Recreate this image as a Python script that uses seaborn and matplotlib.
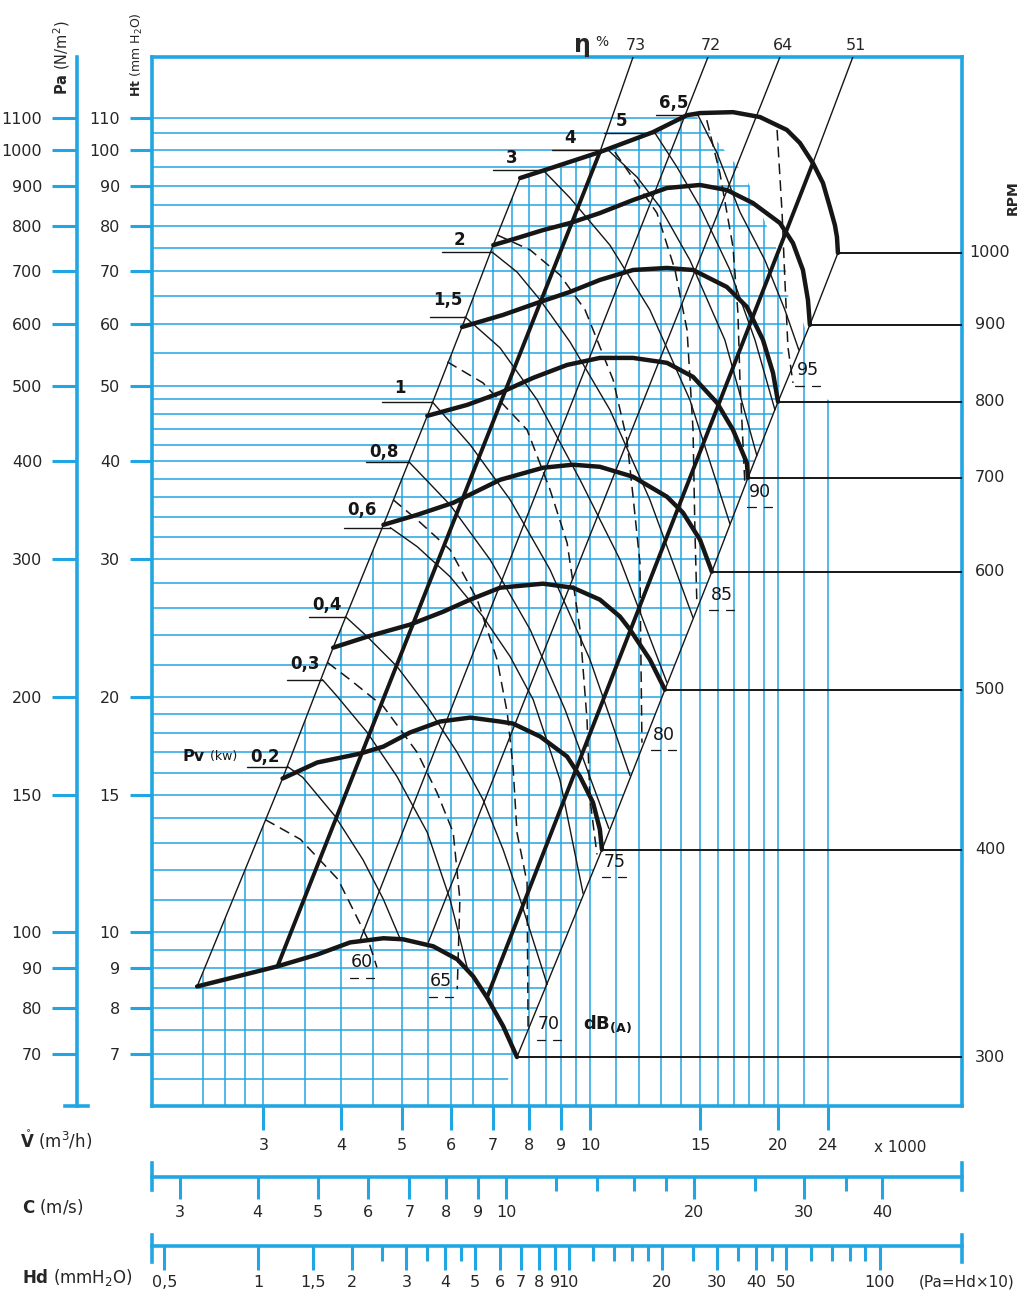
import matplotlib
matplotlib.use("Agg")
import matplotlib.pyplot as plt
import seaborn as sns
from matplotlib.patches import Polygon
from matplotlib.ticker import FixedLocator, NullLocator
from matplotlib.transforms import blended_transform_factory

sns.set_theme(style="white")
plt.rcParams['font.family'] = ['DejaVu Sans']
plt.rcParams['mathtext.fontset'] = 'dejavusans'

BLUE = '#22a6e3'
INK = '#161616'

# ── Fan curves: flow (x1000 m3/h) vs total head Ht (mm H2O) ──────────────────
rpm = [300, 400, 500, 600, 700, 800, 900, 1000]

q300 = [2.35, 3.16, 3.66, 4.13, 4.67, 5.02, 5.61, 6.13, 6.50, 6.84, 7.26, 7.64]
h300 = [8.53, 9.05, 9.37, 9.71, 9.83, 9.80, 9.60, 9.24, 8.79, 8.26, 7.59, 6.93]
q400 = [3.22, 3.66, 4.29, 4.67, 5.15, 5.75, 6.43, 7.18, 7.53, 8.32, 9.19, 9.64, 10.11, 10.37, 10.45]
h400 = [15.73, 16.49, 16.93, 17.28, 18.01, 18.60, 18.82, 18.60, 18.49, 17.80, 16.78, 15.82, 14.66, 13.54, 12.76]
q500 = [3.88, 4.40, 5.15, 5.82, 6.43, 7.18, 8.41, 9.39, 10.37, 11.17, 11.59, 12.47, 13.18]
h500 = [23.12, 23.88, 24.74, 25.70, 26.63, 27.58, 27.91, 27.58, 26.63, 25.33, 24.38, 22.32, 20.43]
q600 = [4.67, 5.29, 6.04, 7.18, 8.41, 9.39, 10.37, 11.72, 13.28, 14.09, 15.00, 15.67]
h600 = [33.19, 34.18, 35.41, 37.89, 39.26, 39.61, 39.37, 38.23, 36.05, 34.39, 31.76, 28.91]
q700 = [5.49, 6.36, 7.18, 8.11, 9.19, 10.37, 11.72, 13.28, 14.62, 15.97, 16.94, 17.83, 17.90]
h700 = [45.74, 47.24, 48.94, 51.15, 53.13, 54.24, 54.24, 53.46, 51.30, 47.53, 43.89, 39.82, 38.11]
q800 = [6.24, 7.26, 8.23, 9.29, 10.37, 11.72, 13.28, 14.62, 16.56, 17.83, 18.92, 19.63, 20.00]
h800 = [59.41, 61.56, 63.77, 65.87, 68.23, 70.26, 70.68, 70.26, 66.83, 63.03, 57.18, 51.91, 47.67]
q900 = [7.00, 7.64, 8.41, 9.29, 10.37, 11.72, 13.28, 15.00, 16.56, 18.23, 20.14, 21.13, 21.92, 22.33, 22.49]
h900 = [75.60, 77.17, 79.01, 80.67, 83.07, 86.32, 89.43, 90.23, 88.90, 85.56, 80.67, 76.04, 70.26, 64.33, 59.78]
q1000 = [7.73, 8.47, 10.37, 12.61, 14.30, 15.00, 16.94, 18.71, 20.66, 21.68, 22.74, 23.60, 24.21, 24.66, 24.85, 24.94]
h1000 = [92.10, 94.29, 99.41, 105.4, 110.8, 111.5, 111.8, 110.2, 106.1, 102.1, 96.25, 90.75, 84.58, 80.2, 77.43, 73.87]

# ── Efficiency lines (eta %) ─────────────────────────────────────────────────
eta_labels = ['73', '72', '64', '51']
eta73_q = [3.16, 10.37, 11.72]
eta73_h = [9.05, 99.41, 131.5]
eta72_q = [4.29, 15.45]
eta72_h = [9.80, 131.5]
eta64_q = [5.51, 20.14]
eta64_h = [9.71, 131.5]
eta51_q = [6.84, 22.74, 26.35]
eta51_h = [8.26, 96.25, 131.5]

# ── Shaft power lines Pv (kW) ────────────────────────────────────────────────
pv_labels = ['0,2', '0,3', '0,4', '0,6', '0,8', '1', '1,5', '2', '3', '4', '5', '6,5']
p02_q = [3.28, 3.47, 3.91, 4.33, 4.67, 4.97]
p02_h = [16.29, 15.78, 14.07, 12.39, 11.02, 9.80]
p03_q = [3.73, 3.94, 4.40, 4.91, 5.49, 5.97, 6.38]
p03_h = [21.04, 20.02, 18.01, 15.82, 13.42, 11.02, 8.92]
p04_q = [4.06, 4.40, 4.91, 5.49, 6.13, 6.74, 7.26, 7.73, 8.54]
p04_h = [25.33, 23.88, 21.87, 19.44, 16.98, 14.79, 12.76, 11.02, 8.58]
p06_q = [4.79, 5.29, 5.97, 6.74, 7.45, 8.11, 8.95, 9.75]
p06_h = [32.91, 31.12, 28.49, 25.33, 22.52, 19.84, 15.68, 11.21]
p08_q = [5.13, 5.97, 6.92, 8.02, 9.12, 10.72]
p08_h = [39.95, 35.20, 29.95, 24.38, 19.27, 13.58]
p1_q = [5.59, 6.43, 7.45, 8.63, 10.0, 11.59]
p1_h = [47.67, 42.00, 35.73, 29.08, 22.32, 15.87]
p15_q = [6.31, 7.18, 8.23, 9.64, 11.17, 13.28]
p15_h = [61.19, 55.86, 47.94, 37.89, 29.95, 20.86]
p2_q = [6.97, 7.64, 8.32, 9.29, 10.76, 12.47, 14.62]
p2_h = [74.07, 69.85, 64.33, 56.85, 46.56, 35.73, 25.25]
p3_q = [8.41, 9.29, 10.76, 12.47, 14.45, 16.75]
p3_h = [94.29, 86.85, 75.60, 62.48, 47.94, 33.29]
p4_q = [10.69, 11.89, 12.94, 14.45, 16.44, 18.50]
p4_h = [100.0, 92.37, 84.58, 72.35, 57.18, 40.67]
p5_q = [12.71, 13.78, 15.00, 16.75, 18.37, 19.77]
p5_h = [105.1, 95.12, 84.58, 70.26, 57.18, 46.56]
p65_q = [14.89, 15.97, 17.38, 19.05, 20.51, 21.59]
p65_h = [110.8, 99.13, 83.33, 72.35, 62.48, 55.54]
pv_label_q = [3.02, 3.50, 3.80, 4.32, 4.68, 4.97, 5.93, 6.19, 7.48, 9.29, 11.25, 13.63]
pv_label_h = [16.78, 22.06, 26.24, 34.69, 41.15, 49.66, 64.33, 76.74, 97.68, 103.6, 108.9, 114.8]

# ── Sound level lines dB(A) ──────────────────────────────────────────────────
db_labels = ['60', '65', '70', '75', '80', '85', '90', '95']
db60_q = [3.02, 3.44, 3.95, 4.41, 4.56]
db60_h = [13.94, 13.15, 11.69, 9.80, 9.02]
db65_q = [3.80, 4.13, 4.67, 5.29, 5.69, 6.04, 6.19, 6.13]
db65_h = [22.13, 21.04, 19.44, 16.98, 15.09, 13.42, 11.02, 8.46]
db70_q = [4.84, 5.29, 5.97, 6.60, 7.10, 7.37, 7.53, 7.64, 7.93, 7.96]
db70_h = [35.73, 33.68, 30.84, 26.63, 22.32, 19.10, 16.29, 13.42, 11.58, 7.52]
db75_q = [5.91, 6.74, 7.93, 8.63, 9.19, 9.64, 9.89, 10.0, 10.26]
db75_h = [53.61, 50.40, 43.89, 36.81, 31.48, 24.38, 18.71, 14.79, 12.58]
db80_q = [7.10, 8.02, 8.95, 9.82, 10.89, 11.46, 11.72, 12.02, 12.05, 12.11]
db80_h = [77.89, 74.53, 69.24, 62.48, 50.85, 42.62, 36.05, 29.69, 24.38, 17.48]
db85_q = [10.96, 12.80, 13.68, 14.30, 14.62, 14.72, 14.83]
db85_h = [99.41, 83.07, 70.26, 58.90, 43.89, 32.72, 26.24]
db90_q = [15.38, 16.14, 16.94, 17.25, 17.38, 17.70]
db90_h = [109.2, 93.46, 75.17, 61.92, 50.85, 37.35]
db95_q = [19.93, 20.30, 20.51, 20.74, 21.13]
db95_h = [106.1, 83.07, 68.23, 56.03, 50.40]
db_label_q = [4.32, 5.78, 8.60, 10.93, 13.13, 16.26, 18.71, 22.33]
db_label_h = [9.16, 8.66, 7.63, 12.32, 17.90, 27.02, 36.58, 52.36]

# ── Axis scales ──────────────────────────────────────────────────────────────
ht_ticks = [7, 8, 9, 10, 15, 20, 30, 40, 50, 60, 70, 80, 90, 100, 110]
pa_ticks = [70, 80, 90, 100, 150, 200, 300, 400, 500, 600, 700, 800, 900, 1000, 1100]
v_ticks = [3, 4, 5, 6, 7, 8, 9, 10, 15, 20, 24]
c_ticks = [3, 4, 5, 6, 7, 8, 9, 10, 20, 30, 40]
c_minor = [12, 14, 16, 18, 25, 35]
hd_ticks = [0.5, 1, 1.5, 2, 3, 4, 5, 6, 7, 8, 9, 10, 20, 30, 40, 50, 100]
hd_labels = ['0,5', '1', '1,5', '2', '3', '4', '5', '6', '7', '8', '9', '10', '20', '30', '40', '50', '100']
hd_minor = [2.5, 3.5, 4.5, 12, 14, 16, 18, 25, 35, 45, 60, 70, 80, 90]

ht_grid = [6.5, 7, 7.5, 8, 8.5, 9, 9.5, 10, 11, 12, 13, 14, 15, 16, 17, 18, 19, 20,
           22, 24, 26, 28, 30, 32, 34, 36, 38, 40, 42, 44, 46, 48, 50,
           55, 60, 65, 70, 75, 80, 85, 90, 95, 100, 105, 110]
v_grid = [2.4, 2.6, 2.8, 3, 3.5, 4, 4.5, 5, 5.5, 6, 6.5, 7, 7.5, 8, 8.5, 9, 9.5, 10,
          11, 12, 13, 14, 15, 16, 17, 18, 19, 20, 22, 24]
# upper-right limit of the printed grid
edge_q = [14.83, 17.70, 20.89, 24.0]
edge_h = [110.2, 92.9, 68.23, 47.94]

XMIN, XMAX, YMIN, YMAX = 1.99, 39.4, 6.0, 131.5

fan_q = [q300, q400, q500, q600, q700, q800, q900, q1000]
fan_h = [h300, h400, h500, h600, h700, h800, h900, h1000]
pv_q = [p02_q, p03_q, p04_q, p06_q, p08_q, p1_q, p15_q, p2_q, p3_q, p4_q, p5_q, p65_q]
pv_h = [p02_h, p03_h, p04_h, p06_h, p08_h, p1_h, p15_h, p2_h, p3_h, p4_h, p5_h, p65_h]
db_q = [db60_q, db65_q, db70_q, db75_q, db80_q, db85_q, db90_q, db95_q]
db_h = [db60_h, db65_h, db70_h, db75_h, db80_h, db85_h, db90_h, db95_h]

start_q = [q[0] for q in fan_q]
start_h = [h[0] for h in fan_h]
end_q = [q[-1] for q in fan_q]
end_h = [h[-1] for h in fan_h]

# ── Figure ───────────────────────────────────────────────────────────────────
fig = plt.figure(figsize=(10.24, 12.98), dpi=100)
fig.patch.set_facecolor('white')
ax = fig.add_axes([152 / 1024, 1 - 1106 / 1298, 810 / 1024, 1049 / 1298])
ax.set_xscale('log')
ax.set_yscale('log')
ax.set_facecolor('white')

# blue grid, clipped to the working field
h_clip = ([(XMIN, YMIN), (XMIN, 112), (14.6, 112)] + list(zip(edge_q[:3], edge_h[:3])) +
          list(zip(end_q[::-1][2:], end_h[::-1][2:])) + [(7.11, YMIN)])
v_clip = ([(start_q[0], YMIN)] + list(zip(start_q, start_h)) +
          list(zip(q1000[1:5], h1000[1:5])) + [(14.6, 112)] +
          list(zip(edge_q, edge_h)) + [(25.5, edge_h[-1]), (25.5, YMIN)])
hl = ax.hlines(ht_grid, XMIN, XMAX, colors=BLUE, lw=1.1, zorder=1)
hl.set_clip_path(Polygon(h_clip, closed=True, transform=ax.transData))
vl = ax.vlines(v_grid, YMIN, YMAX, colors=BLUE, lw=1.1, zorder=1)
vl.set_clip_path(Polygon(v_clip, closed=True, transform=ax.transData))

# boundaries of the field
ax.plot(start_q, start_h, color=INK, lw=1.0, zorder=3)
ax.plot(end_q, end_h, color=INK, lw=1.0, zorder=3)

# efficiency lines
ax.plot(eta73_q[:2], eta73_h[:2], color=INK, lw=2.8, zorder=4)
ax.plot(eta73_q[1:], eta73_h[1:], color=INK, lw=1.0, zorder=4)
ax.plot(eta51_q[:2], eta51_h[:2], color=INK, lw=2.8, zorder=4)
ax.plot(eta51_q[1:], eta51_h[1:], color=INK, lw=1.0, zorder=4)
ax.plot(eta72_q, eta72_h, color=INK, lw=1.0, zorder=4)
ax.plot(eta64_q, eta64_h, color=INK, lw=1.0, zorder=4)

# power lines
for q, h in zip(pv_q, pv_h):
    sns.lineplot(x=q, y=h, sort=False, estimator=None, color=INK, lw=1.0, ax=ax, zorder=4)

# sound lines
for q, h in zip(db_q, db_h):
    sns.lineplot(x=q, y=h, sort=False, estimator=None, color=INK, lw=1.1, ax=ax,
                 zorder=4, dashes=False, linestyle=(0, (7, 4)))

# fan curves + speed lines
for q, h in zip(fan_q, fan_h):
    sns.lineplot(x=q, y=h, sort=False, estimator=None, color=INK, lw=3.2, ax=ax, zorder=6)
ax.hlines(end_h, end_q, XMAX, colors=INK, lw=1.4, zorder=5)

ax.set_xlim(XMIN, XMAX)
ax.set_ylim(YMIN, YMAX)

# labels inside the field
for lab, lq, lh, q, h in zip(pv_labels, pv_label_q, pv_label_h, pv_q, pv_h):
    ax.text(lq, lh, lab, ha='center', va='center', fontsize=12, fontweight='bold', color=INK, zorder=7)
    ax.plot([lq * 0.935, q[0]], [h[0], h[0]], color=INK, lw=1.0, zorder=4)
ax.text(2.42, 16.78, 'Pv', ha='right', va='center', fontsize=11.5, fontweight='bold', color=INK)
ax.text(2.43, 16.78, ' (kw)', ha='left', va='center', fontsize=9, color=INK)

for lab, lq, lh in zip(db_labels, db_label_q, db_label_h):
    ax.text(lq, lh, lab, ha='center', va='center', fontsize=12.5, color=INK, zorder=7)
    ax.plot([lq * 0.955, lq * 0.985], [lh * 0.955, lh * 0.955], color=INK, lw=0.9)
    ax.plot([lq * 1.015, lq * 1.045], [lh * 0.955, lh * 0.955], color=INK, lw=0.9)
ax.text(9.75, 7.63, r'dB$_{\mathbf{(A)}}$', ha='left', va='center', fontsize=13, fontweight='bold', color=INK)

top = blended_transform_factory(ax.transData, ax.transAxes)
ax.text(9.74, 1.0114, 'η', transform=top, ha='center', va='center', fontsize=17, fontweight='bold')
ax.text(10.45, 1.0140, '%', transform=top, ha='center', va='center', fontsize=10)
for lab, q in zip(eta_labels, [eta73_q[-1], eta72_q[-1], eta64_q[-1], eta51_q[-1]]):
    ax.text(q * 1.01, 1.0114, lab, transform=top, ha='center', va='center', fontsize=11.5)

right = blended_transform_factory(ax.transAxes, ax.transData)
for r, h in zip(rpm, end_h):
    ax.text(1.0346, h, str(r), transform=right, ha='center', va='center', fontsize=11.5)

# ── main axes styling ────────────────────────────────────────────────────────
ax.set_xticks(v_ticks)
ax.set_xticklabels([str(v) for v in v_ticks])
ax.xaxis.set_minor_locator(NullLocator())
ax.set_yticks(ht_ticks)
ax.set_yticklabels([str(v) for v in ht_ticks])
ax.yaxis.set_minor_locator(NullLocator())
ax.tick_params(axis='x', which='major', bottom=True, top=False, direction='out', length=17,
               width=2.2, color=BLUE, pad=6, labelsize=11.5)
ax.tick_params(axis='y', which='major', left=True, right=False, direction='out', length=16,
               width=2.2, color=BLUE, pad=7, labelsize=11.5)
for s in ax.spines.values():
    s.set_visible(True)
    s.set_color(BLUE)
    s.set_linewidth(2.6)

# Pa axis on the far left
ax_pa = fig.add_axes([65 / 1024, 1 - 1106 / 1298, 23 / 1024, 1049 / 1298])
ax_pa.set_yscale('log')
ax_pa.set_ylim(YMIN * 10, YMAX * 10)
ax_pa.patch.set_alpha(0)
ax_pa.set_xticks([])
ax_pa.set_yticks(pa_ticks)
ax_pa.set_yticklabels([str(v) for v in pa_ticks])
ax_pa.yaxis.set_minor_locator(NullLocator())
for k in ['top', 'right']:
    ax_pa.spines[k].set_visible(False)
ax_pa.spines['left'].set_position(('axes', 0.52))
for k in ['left', 'bottom']:
    ax_pa.spines[k].set_visible(True)
    ax_pa.spines[k].set_color(BLUE)
    ax_pa.spines[k].set_linewidth(2.6)
ax_pa.tick_params(axis='y', left=True, direction='out', length=18, width=2.2, color=BLUE,
                  pad=7, labelsize=11.5)

# velocity scale
ax_c = fig.add_axes([152 / 1024, 1 - 1190 / 1298, 810 / 1024, 27 / 1298])
ax_c.set_xscale('log')
ax_c.set_xlim(XMIN * 1.362, XMAX * 1.362)
ax_c.patch.set_alpha(0)
ax_c.set_yticks([])
ax_c.spines['top'].set_visible(False)
ax_c.spines['bottom'].set_position(('axes', 13 / 27))
ax_c.set_xticks(c_ticks)
ax_c.set_xticklabels([str(v) for v in c_ticks])
ax_c.xaxis.set_minor_locator(FixedLocator(c_minor))
ax_c.xaxis.set_minor_formatter(plt.NullFormatter())
for k in ['left', 'right', 'bottom']:
    ax_c.spines[k].set_visible(True)
    ax_c.spines[k].set_color(BLUE)
    ax_c.spines[k].set_linewidth(2.6)
ax_c.tick_params(axis='x', which='major', bottom=True, direction='out', length=16, width=2.2,
                 color=BLUE, pad=4, labelsize=11.5)
ax_c.tick_params(axis='x', which='minor', bottom=True, direction='out', length=10, width=2.2,
                 color=BLUE)

# dynamic pressure scale
ax_hd = fig.add_axes([152 / 1024, 1 - 1262 / 1298, 810 / 1024, 27 / 1298])
ax_hd.set_xscale('log')
ax_hd.set_xlim(0.456, 184)
ax_hd.patch.set_alpha(0)
ax_hd.set_yticks([])
ax_hd.spines['top'].set_visible(False)
ax_hd.spines['bottom'].set_position(('axes', 16 / 27))
ax_hd.set_xticks(hd_ticks)
ax_hd.set_xticklabels(hd_labels)
ax_hd.xaxis.set_minor_locator(FixedLocator(hd_minor))
ax_hd.xaxis.set_minor_formatter(plt.NullFormatter())
for k in ['left', 'right', 'bottom']:
    ax_hd.spines[k].set_visible(True)
    ax_hd.spines[k].set_color(BLUE)
    ax_hd.spines[k].set_linewidth(2.6)
ax_hd.tick_params(axis='x', which='major', bottom=True, direction='out', length=17, width=2.2,
                  color=BLUE, pad=4, labelsize=11.5)
ax_hd.tick_params(axis='x', which='minor', bottom=True, direction='out', length=11, width=2.2,
                  color=BLUE)

# ── outer captions ───────────────────────────────────────────────────────────
fig.text(62 / 1024, 1 - 95 / 1298, r'$\mathbf{Pa}$ (N/m$^2$)', rotation=90, ha='center',
         va='bottom', fontsize=10.5)
fig.text(137 / 1024, 1 - 97 / 1298, r'$\mathbf{Ht}$ (mm H$_2$O)', rotation=90, ha='center',
         va='bottom', fontsize=9)
fig.text(1013 / 1024, 1 - 215 / 1298, 'RPM', rotation=90, ha='center', va='bottom',
         fontsize=10, fontweight='bold')
fig.text(20 / 1024, 1 - 1140 / 1298, r'$\mathbf{\mathring{V}}$ (m$^3$/h)', ha='left',
         va='center', fontsize=12)
fig.text(900 / 1024, 1 - 1147 / 1298, 'x 1000', ha='center', va='center', fontsize=11)
fig.text(22 / 1024, 1 - 1207 / 1298, r'$\mathbf{C}$ (m/s)', ha='left', va='center', fontsize=12)
fig.text(22 / 1024, 1 - 1277 / 1298, r'$\mathbf{Hd}$ (mmH$_2$O)', ha='left', va='center',
         fontsize=12)
fig.text(967 / 1024, 1 - 1282 / 1298, '(Pa=Hd×10)', ha='center', va='center', fontsize=11)

fig.savefig('out.png', dpi=100, facecolor='white')
